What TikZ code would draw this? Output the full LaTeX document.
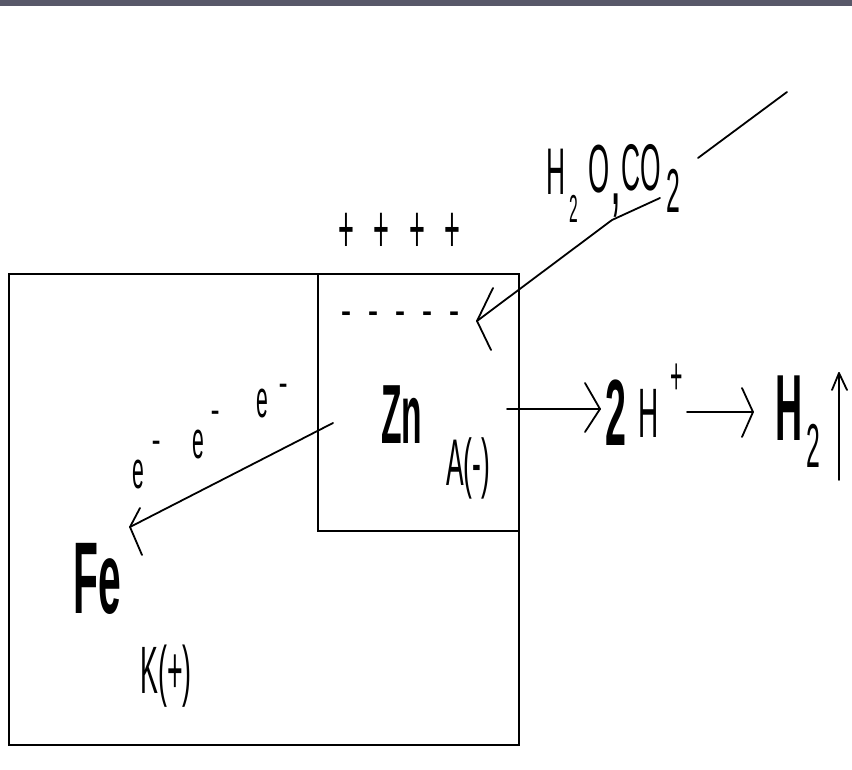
\documentclass[tikz,border=0pt]{standalone}
\usepackage{fontspec}
\setmainfont{Liberation Sans}
\newfontfamily\cn[FakeStretch=0.4]{Liberation Sans}
\newcommand\fsz[1]{\fontsize{#1pt}{#1pt}\selectfont}
\newcommand\eneg[3]{e\hspace{#1pt}\raisebox{#2pt}{\normalfont\bfseries\fsz{#3}-}}
\definecolor{barc}{RGB}{88,88,105}
\begin{document}
\begin{tikzpicture}[x=1pt,y=-1pt,
  lbl/.style={inner sep=0pt, anchor=base west, font=\cn},
  ln/.style={line width=1.8pt, line cap=round, line join=round},
  boxline/.style={line width=2.6pt},
  innerline/.style={line width=1.9pt}]
\fill[white] (0,0) rectangle (852,770);
\useasboundingbox (0,0) rectangle (852,770);
\fill[barc] (0,0) rectangle (852,6);

% boxes
\draw[boxline] (9,274) rectangle (519,745);
\draw[innerline] (318,274) -- (318,531) -- (519,531);

% charges
\foreach \x [count=\i] in {338,373,409,444}
  \node[lbl, font=\cn\fsz{68}] (pos\i) at (\x,253) {+};
\foreach \x [count=\i] in {341,368,395,422,449}
  \node[lbl, font=\normalfont\bfseries\fsz{30}] (neg\i) at (\x,322) {-};

% labels
\node[lbl, font=\cn\fsz{53}] (e1) at (132,488) {\eneg{8}{39}{26}};
\node[lbl, font=\cn\fsz{53}] (e2) at (192,458) {\eneg{7}{39}{26}};
\node[lbl, font=\cn\fsz{53}] (e3) at (256,417) {\eneg{11}{25}{26}};

\node[lbl, font=\cn\bfseries\fsz{84}] (zn) at (381,443) {Zn};
\node[lbl, font=\cn\fsz{66}] (an) at (446,485) {A(-)};
\node[lbl, font=\cn\bfseries\fsz{102}] (fe) at (73,613) {Fe};
\node[lbl, font=\cn\fsz{67}] (ka) at (140,693) {K(+)};

\node[lbl, font=\cn\bfseries\fsz{94}] (two) at (605,445) {2};
\node[lbl, font=\cn\fsz{70}] (hp) at (638,437) {H};
\node[lbl, font=\cn\fsz{53}] (hpp) at (670,394) {+};
\node[lbl, font=\cn\bfseries\fsz{94}] (htwo) at (775,440) {H};
\node[lbl, font=\cn\fsz{62}] (htwos) at (806,467) {2};

\node[lbl, font=\cn\fsz{66}] (w1) at (546,195) {H};
\node[lbl, font=\cn\fsz{39}] (w2) at (569,223) {2};
\node[lbl, font=\cn\fsz{68}] (w3) at (588,193) {O};
\node[lbl, font=\cn\fsz{100}] (w4) at (610,205) {,};
\node[lbl, font=\cn\fsz{66}] (w5) at (621,191) {CO};
\node[lbl, font=\cn\fsz{62}] (w6) at (666,213) {2};

% connectors
\coordinate (a1s) at (787,92);
\coordinate (a1m) at (698,158);
\coordinate (a1n) at (660,198);
\coordinate (a1k) at (612,220);
\coordinate (a1t) at (477,321);
\draw[ln] (a1s) -- (a1m);
\draw[ln] (a1n) -- (a1k) -- (a1t);
\draw[ln] (a1t) ++(16,-33) -- (a1t) -- ++(14,29);

\coordinate (eas) at (333,423);
\coordinate (eat) at (130,527);
\draw[ln] (eas) -- (eat);
\draw[ln] (eat) ++(10,-19) -- (eat) -- ++(12,28);

\coordinate (r1s) at (507,409);
\coordinate (r1t) at (600,409);
\draw[ln] (r1s) -- (r1t);
\draw[ln] (r1t) ++(-15,-26) -- (r1t) -- ++(-15,23);

\coordinate (r2s) at (687,412);
\coordinate (r2t) at (753,412);
\draw[ln] (r2s) -- (r2t);
\draw[ln] (r2t) ++(-11,-24) -- (r2t) -- ++(-11,25);

\coordinate (us) at (839,480);
\coordinate (ut) at (839,373);
\draw[ln] (us) -- (ut);
\draw[ln] (ut) ++(-7,17) -- (ut) -- ++(8,17);
\end{tikzpicture}
\end{document}
